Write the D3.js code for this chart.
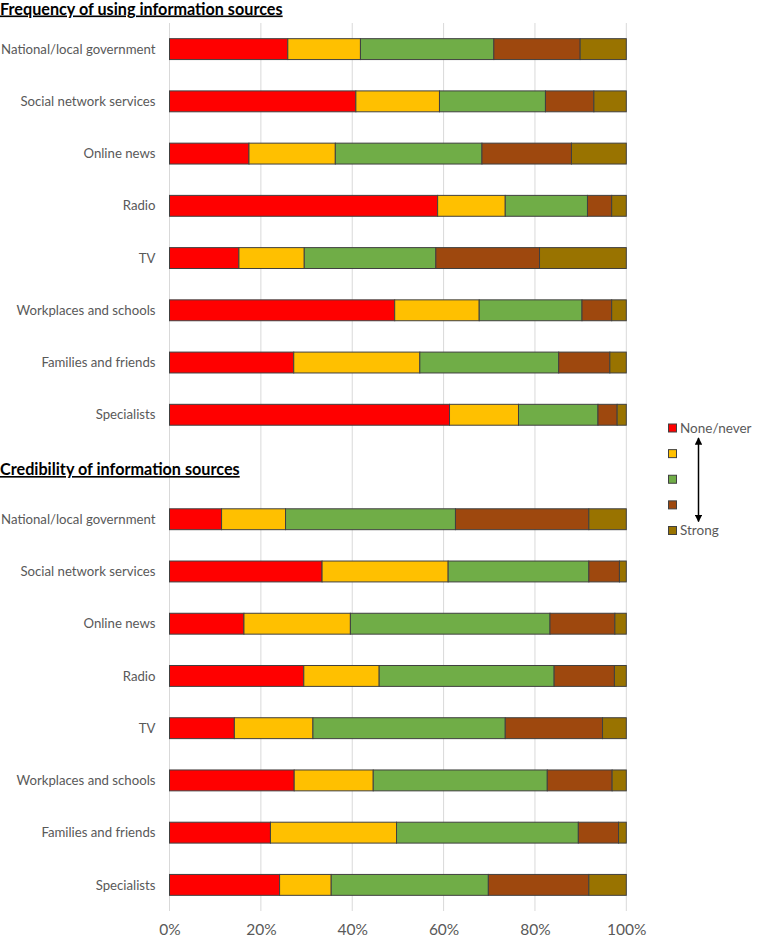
<!DOCTYPE html>
<html>
<head>
<meta charset="utf-8">
<script src="https://cdn.jsdelivr.net/npm/d3@7"></script>
<style>
  html, body { margin: 0; padding: 0; background: #fff; }
  svg { display: block; }
</style>
</head>
<body>
<svg id="chart" width="759" height="939"></svg>
<script>
// ---------- DATA ----------
const categories = ["National/local government", "Social network services", "Online news", "Radio", "TV", "Workplaces and schools", "Families and friends", "Specialists"];
const levelLabels = ["None/never", "", "", "", "Strong"];
const levelColors = ["#FF0000", "#FFC000", "#70AD47", "#9E480E", "#997300"];
const sectionTitles = ["Frequency of using information sources", "Credibility of information sources"];
const tickValues = [0, 20, 40, 60, 80, 100];
const tickLabels = ["0%", "20%", "40%", "60%", "80%", "100%"];

// Frequency: percentage share of each level (None/never -> Strong)
const freqLevel1 = [25.9, 40.8, 17.4, 58.7, 15.2, 49.3, 27.2, 61.3];
const freqLevel2 = [15.9, 18.3, 18.9, 14.8, 14.3, 18.5, 27.6, 15.1];
const freqLevel3 = [29.2, 23.2, 32.1, 18.0, 28.8, 22.5, 30.4, 17.4];
const freqLevel4 = [18.9, 10.6, 19.6, 5.3, 22.7, 6.5, 11.2, 4.2];
const freqLevel5 = [10.1, 7.1, 12.0, 3.2, 19.0, 3.2, 3.6, 2.0];

// Credibility
const credLevel1 = [11.4, 33.4, 16.3, 29.4, 14.2, 27.3, 22.1, 24.1];
const credLevel2 = [14.0, 27.6, 23.3, 16.5, 17.2, 17.3, 27.6, 11.3];
const credLevel3 = [37.2, 30.8, 43.7, 38.3, 42.1, 38.1, 39.8, 34.4];
const credLevel4 = [29.2, 6.7, 14.2, 13.2, 21.3, 14.2, 8.8, 22.0];
const credLevel5 = [8.2, 1.5, 2.5, 2.6, 5.2, 3.1, 1.7, 8.2];

// ---------- BUILD ROWS ----------
const freqLevels = [freqLevel1, freqLevel2, freqLevel3, freqLevel4, freqLevel5];
const credLevels = [credLevel1, credLevel2, credLevel3, credLevel4, credLevel5];
const rows = [];
categories.forEach((c, i) => rows.push({ key: "f" + i, label: c, vals: freqLevels.map(l => l[i]) }));
rows.push({ key: "gap", label: null, vals: null });
categories.forEach((c, i) => rows.push({ key: "c" + i, label: c, vals: credLevels.map(l => l[i]) }));

// ---------- SCALES ----------
const svg = d3.select("#chart");
const font = "Lato, 'Open Sans', sans-serif";
const x = d3.scaleLinear().domain([0, 100]).range([169.5, 626.3]);
const y = d3.scaleBand().domain(rows.map(r => r.key)).range([23, 911]).paddingInner(0.6).paddingOuter(0.3);

// gridlines
svg.append("g").selectAll("line").data(tickValues).join("line")
  .attr("x1", d => x(d)).attr("x2", d => x(d))
  .attr("y1", 23).attr("y2", 911)
  .attr("stroke", "#d9d9d9").attr("stroke-width", 1);

// axis
const axis = d3.axisBottom(x).tickValues(tickValues).tickFormat((d, i) => tickLabels[i]).tickSize(0).tickPadding(0);
const ax = svg.append("g").attr("transform", "translate(0,924)").call(axis);
ax.select(".domain").remove();
ax.selectAll("text").attr("font-family", font).attr("font-size", 15.5).attr("fill", "#595959").attr("dy", "0.71em");

// bars
const dataRows = rows.filter(r => r.vals);
const gRows = svg.append("g").selectAll("g").data(dataRows).join("g")
  .attr("transform", d => `translate(0,${y(d.key)})`);

gRows.each(function (r) {
  let cum = 0;
  const segs = r.vals.map((v, i) => { const s = { x0: cum, x1: cum + v, i }; cum += v; return s; });
  d3.select(this).selectAll("rect").data(segs).join("rect")
    .attr("x", d => x(d.x0)).attr("width", d => x(Math.min(d.x1, 100)) - x(d.x0))
    .attr("y", 0).attr("height", y.bandwidth())
    .attr("fill", d => levelColors[d.i])
    .attr("stroke", "#404040").attr("stroke-width", 1);
});

// category labels
svg.append("g").selectAll("text").data(dataRows).join("text")
  .attr("x", 155.5).attr("y", d => y(d.key) + y.bandwidth() / 2)
  .attr("dy", "0.35em").attr("text-anchor", "end")
  .attr("font-family", font).attr("font-size", 13.2).attr("fill", "#595959")
  .text(d => d.label);

// section titles
const titleY = [14.5, 475];
sectionTitles.forEach((t, i) => {
  svg.append("text").attr("x", 0).attr("y", titleY[i])
    .attr("font-family", font).attr("font-size", 16.2).attr("font-weight", "bold")
    .attr("fill", "#000").attr("text-decoration", "underline")
    .text(t);
});

// legend
const legY = d3.scaleLinear().domain([0, 4]).range([428, 530.5]);
const leg = svg.append("g");
leg.selectAll("rect").data(levelColors).join("rect")
  .attr("x", 668.5).attr("y", (d, i) => legY(i) - 4).attr("width", 8).attr("height", 8)
  .attr("fill", d => d).attr("stroke", "#404040").attr("stroke-width", 1);
leg.selectAll("text").data(levelLabels).join("text")
  .attr("x", 680).attr("y", (d, i) => legY(i)).attr("dy", "0.35em")
  .attr("font-family", font).attr("font-size", 13.5).attr("fill", "#595959")
  .text(d => d);

// arrow
const defs = svg.append("defs");
defs.append("marker").attr("id", "ah").attr("viewBox", "0 0 10 10").attr("refX", 9).attr("refY", 5)
  .attr("markerWidth", 5).attr("markerHeight", 5).attr("markerUnits", "strokeWidth").attr("orient", "auto-start-reverse")
  .append("path").attr("d", "M0,0 L10,5 L0,10 Z").attr("fill", "#000");
leg.append("line").attr("x1", 698.5).attr("x2", 698.5).attr("y1", 438).attr("y2", 521.5)
  .attr("stroke", "#000").attr("stroke-width", 1.5)
  .attr("marker-start", "url(#ah)").attr("marker-end", "url(#ah)");
</script>
</body>
</html>
